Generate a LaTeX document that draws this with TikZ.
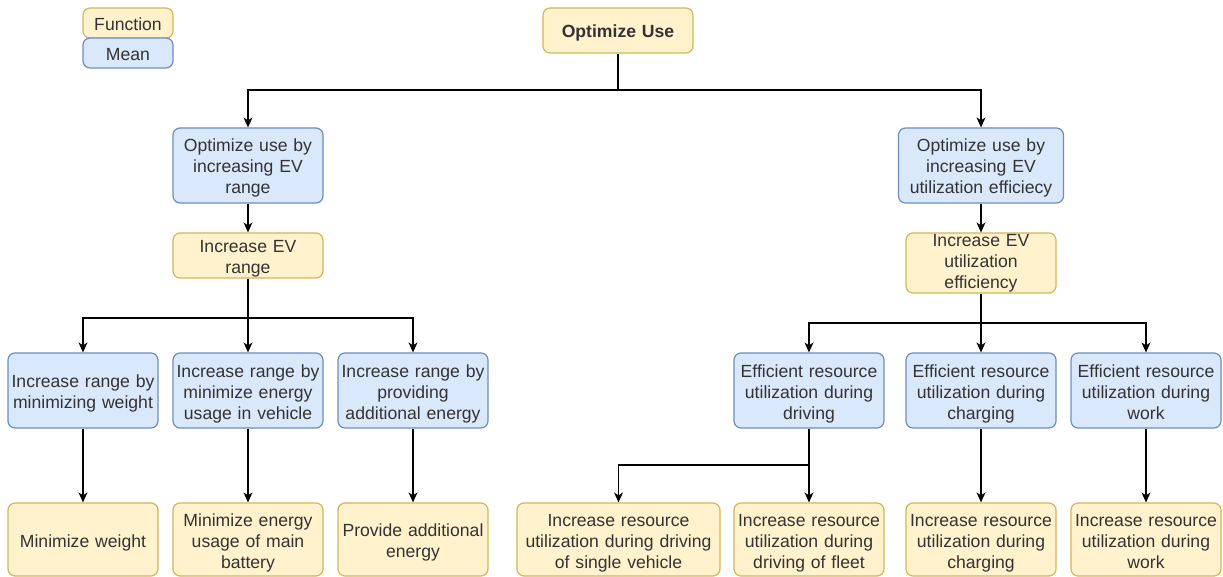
\documentclass[tikz,border=0pt]{standalone}
\usepackage{fontspec}
\setmainfont{Liberation Sans}
\usetikzlibrary{arrows.meta}
\definecolor{fnfill}{HTML}{FFF2CC}
\definecolor{fnline}{HTML}{D6B656}
\definecolor{mnfill}{HTML}{DAE8FC}
\definecolor{mnline}{HTML}{6C8EBF}
\definecolor{txt}{HTML}{333333}
\tikzset{
  plainbox/.style={rounded corners=7pt, line width=1.2pt, inner sep=0pt, align=center,
    text=txt, font=\fontsize{17.6}{21}\selectfont},
  box/.style={plainbox,
    execute at begin node={\rule{0pt}{19pt}},
    execute at end node={\rule[-4pt]{0pt}{4pt}}},
  fnplain/.style={plainbox, draw=fnline, fill=fnfill},
  fn/.style={box, draw=fnline, fill=fnfill},
  mn/.style={box, draw=mnline, fill=mnfill},
  w/.style={text width=#1pt},
  h/.style={minimum height=#1pt},
  arr/.style={line width=1.3pt, -{Stealth[length=10pt,width=9pt,inset=3pt]}},
  ln/.style={line width=1.3pt}
}
\begin{document}
\begin{tikzpicture}[x=1pt,y=-1pt]
\useasboundingbox (0,0) rectangle (1223,577);

% legend
\node[fn, w=90, h=30] (legF) at (128,23) {Function};
\node[mn, w=90, h=30] (legM) at (128,53) {Mean};

% root
\node[fn, w=150, h=45, font=\fontsize{17.6}{21}\selectfont\bfseries] (top) at (618,30.5) {Optimize Use};

% left branch
\node[mn, w=150, h=75] (m1) at (248,165.5) {Optimize use by\\increasing EV\\range};
\node[fn, w=150, h=45] (f1) at (248,255.5) {Increase EV\\range};
\node[mn, w=150, h=75] (m11) at (83,390.5) {Increase range by\\minimizing weight};
\node[mn, w=150, h=75] (m12) at (248,390.5) {Increase range by\\minimize energy\\usage in vehicle};
\node[mn, w=150, h=75] (m13) at (413,390.5) {Increase range by\\providing\\additional energy};
\node[fn, w=150, h=73] (b11) at (83,539.5) {Minimize weight};
\node[fn, w=150, h=73] (b12) at (248,539.5) {Minimize energy\\usage of main\\battery};
\node[fn, w=150, h=73] (b13) at (413,539.5) {Provide additional\\energy};

% right branch
\node[mn, w=165, h=75] (m2) at (981,165.5) {Optimize use by\\increasing EV\\utilization efficiecy};
\node[fnplain, w=150, h=60] (f2) at (981,263) {Increase EV\\utilization\\efficiency};
\node[mn, w=150, h=75] (m21) at (809,390.5) {Efficient resource\\utilization during\\driving};
\node[mn, w=150, h=75] (m22) at (981,390.5) {Efficient resource\\utilization during\\charging};
\node[mn, w=150, h=75] (m23) at (1146,390.5) {Efficient resource\\utilization during\\work};
\node[fn, w=203, h=73] (b21) at (618.5,539.5) {Increase resource\\utilization during driving\\of single vehicle};
\node[fn, w=150, h=73] (b22) at (809,539.5) {Increase resource\\utilization during\\driving of fleet};
\node[fn, w=150, h=73] (b23) at (981,539.5) {Increase resource\\utilization during\\charging};
\node[fn, w=150, h=73] (b24) at (1146,539.5) {Increase resource\\utilization during\\work};

% junction points
\coordinate (j0) at (618,90);
\coordinate (j1) at (248,318);
\coordinate (j2) at (981,323);
\coordinate (j3) at (809,465);

% connectors
\draw[ln] (top.south) -- (j0);
\draw[arr] (j0) -| (m1.north);
\draw[arr] (j0) -| (m2.north);

\draw[arr] (m1.south) -- (f1.north);
\draw[ln] (f1.south) -- (j1);
\draw[arr] (j1) -| (m11.north);
\draw[arr] (f1.south) -- (m12.north);
\draw[arr] (j1) -| (m13.north);
\draw[arr] (m11.south) -- (b11.north);
\draw[arr] (m12.south) -- (b12.north);
\draw[arr] (m13.south) -- (b13.north);

\draw[arr] (m2.south) -- (f2.north);
\draw[ln] (f2.south) -- (j2);
\draw[arr] (j2) -| (m21.north);
\draw[arr] (f2.south) -- (m22.north);
\draw[arr] (j2) -| (m23.north);
\draw[ln] (m21.south) -- (j3);
\draw[arr] (j3) -| (b21.north);
\draw[arr] (m21.south) -- (b22.north);
\draw[arr] (m22.south) -- (b23.north);
\draw[arr] (m23.south) -- (b24.north);
\end{tikzpicture}
\end{document}
